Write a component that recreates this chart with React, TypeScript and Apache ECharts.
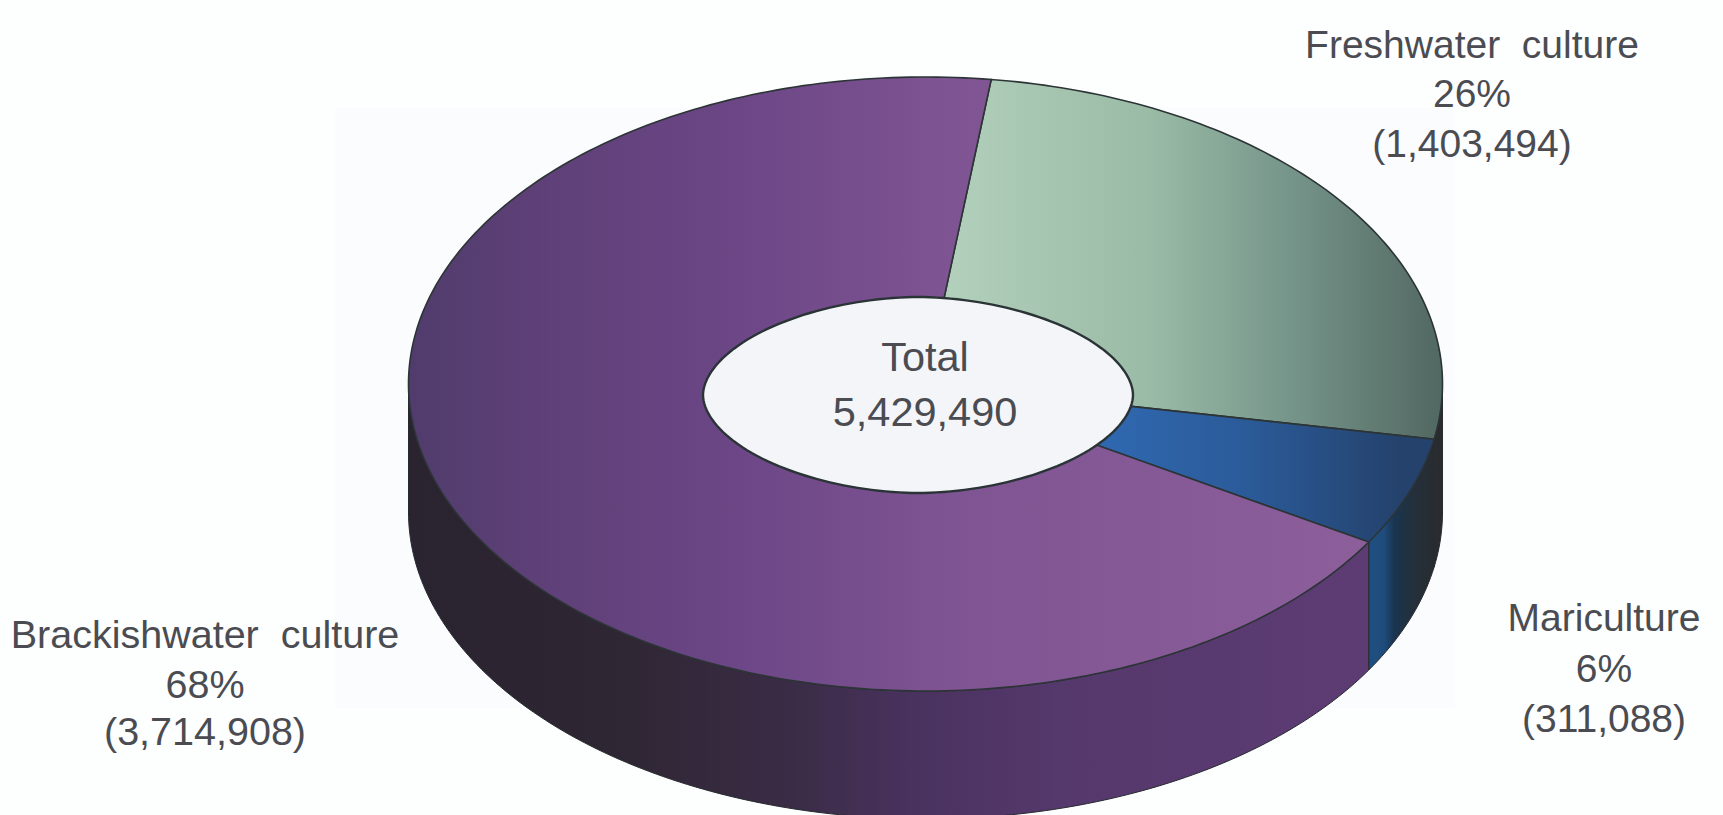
import React, { useEffect, useRef } from "react";
import * as echarts from "echarts";

// Aquaculture production by culture type, clockwise from the first slice.
const categories = ["Freshwater  culture", "Mariculture", "Brackishwater  culture"];
const productionValues = [1403494, 311088, 3714908];
const shareLabels = ["26%", "6%", "68%"];
const valueLabels = ["(1,403,494)", "(311,088)", "(3,714,908)"];
const totalTitle = "Total";
const totalLabel = "5,429,490";

// Pie geometry: an ellipse tilted towards the viewer, with a visible rim.
const WIDTH = 1723;
const HEIGHT = 815;
const CX = 925.5;
const CY = 384;
const RX = 517;
const RY = 307;
const DEPTH = 128;
const START_ANGLE = 7.3;
const HOLE = { cx: 918, cy: 395, rx: 215, ry: 98, power: 1.85 };
const TEXT_FONT = "'Liberation Sans', Arial, sans-serif";
const TEXT_COLOR = "#4b4c52";
const EDGE = "#2c3436";

type Stop = [number, string];

// Horizontal gradient whose stops are given in chart pixels.
const pixelGradient = (stops: Stop[]) => {
  const x0 = stops[0][0];
  const x1 = stops[stops.length - 1][0];
  return new echarts.graphic.LinearGradient(
    x0,
    0,
    x1,
    0,
    stops.map(([x, color]) => ({ offset: (x - x0) / (x1 - x0), color })),
    true
  );
};

const topFills = [
  pixelGradient([[945, "#b2d0bb"], [1150, "#9abba6"], [1290, "#76958a"], [1440, "#526862"]]),
  pixelGradient([[1104, "#2f68b0"], [1250, "#2b5a98"], [1400, "#24426c"]]),
  pixelGradient([[408, "#503c6c"], [550, "#5f4078"], [750, "#6d4787"], [950, "#7f5492"], [1362, "#8c5f9b"]]),
];
const rimBlueDark = pixelGradient([[1367, "#1f5082"], [1384, "#1e4c7c"], [1394, "#1a3550"], [1412, "#23303c"], [1444, "#2a2a2c"]]);
const rimFills = [
  rimBlueDark,
  rimBlueDark,
  pixelGradient([[408, "#2a2430"], [610, "#2e2632"], [800, "#3b2c47"], [910, "#49325e"], [1060, "#55386c"], [1367, "#5d3c74"]]),
];

const total = productionValues.reduce((a, b) => a + b, 0);
const sliceAngles = (index: number): [number, number] => {
  const before = productionValues.slice(0, index).reduce((a, b) => a + b, 0);
  return [
    START_ANGLE + (before / total) * 360,
    START_ANGLE + ((before + productionValues[index]) / total) * 360,
  ];
};

const rimPoint = (deg: number, drop = 0): number[] => {
  const r = (deg * Math.PI) / 180;
  return [CX + RX * Math.sin(r), CY - RY * Math.cos(r) + drop];
};

const arc = (from: number, to: number, drop = 0): number[][] => {
  const pts: number[][] = [];
  const steps = Math.max(2, Math.ceil(Math.abs(to - from)));
  for (let i = 0; i <= steps; i++) pts.push(rimPoint(from + ((to - from) * i) / steps, drop));
  return pts;
};

const holePoints = (): number[][] => {
  const pts: number[][] = [];
  for (let deg = 0; deg < 360; deg += 2) {
    const r = (deg * Math.PI) / 180;
    const c = Math.cos(r);
    const s = Math.sin(r);
    pts.push([
      HOLE.cx + HOLE.rx * Math.sign(c) * Math.pow(Math.abs(c), 2 / HOLE.power),
      HOLE.cy + HOLE.ry * Math.sign(s) * Math.pow(Math.abs(s), 2 / HOLE.power),
    ]);
  }
  return pts;
};

const labelBlock = (x: number, ys: number[], lines: string[], size: number) =>
  lines.map((line, i) => ({
    type: "text",
    x,
    y: ys[i],
    z: 100,
    style: {
      text: line,
      x: 0,
      y: 0,
      align: "center",
      verticalAlign: "middle",
      fontFamily: TEXT_FONT,
      fontSize: size,
      fill: TEXT_COLOR,
    },
  }));

const buildOption = () => {
  const sliceData = productionValues.map((value) => [value]);
  return {
    animation: false,
    backgroundColor: "#fdfefe",
    series: [
      {
        type: "custom",
        name: "rim",
        coordinateSystem: "none",
        z: 2,
        silent: true,
        data: sliceData,
        renderItem: (params: any) => {
          const [a0, a1] = sliceAngles(params.dataIndex);
          const from = Math.max(a0, 90);
          const to = Math.min(a1, 270);
          if (to <= from) return { type: "group", children: [] };
          return {
            type: "polygon",
            shape: { points: [...arc(from, to), ...arc(to, from, DEPTH)] },
            style: { fill: rimFills[params.dataIndex], stroke: "#272a30", lineWidth: 1 },
          };
        },
      },
      {
        type: "custom",
        name: "top",
        coordinateSystem: "none",
        z: 3,
        silent: true,
        data: sliceData,
        renderItem: (params: any) => {
          const [a0, a1] = sliceAngles(params.dataIndex);
          return {
            type: "polygon",
            shape: { points: [[CX, CY], ...arc(a0, a1)] },
            style: { fill: topFills[params.dataIndex], stroke: EDGE, lineWidth: 1.6 },
          };
        },
      },
      {
        type: "custom",
        name: "hole",
        coordinateSystem: "none",
        z: 4,
        silent: true,
        data: [[total]],
        renderItem: () => ({
          type: "polygon",
          shape: { points: holePoints() },
          style: { fill: "#f4f5f9", stroke: "#2a3336", lineWidth: 2.4 },
        }),
      },
    ],
    graphic: {
      elements: [
        {
          type: "rect",
          z: -10,
          shape: { x: 335, y: 108, width: 1120, height: 600 },
          style: { fill: "#fbfcfd" },
        },
        ...labelBlock(1472, [44, 93, 143], [categories[0], shareLabels[0], valueLabels[0]], 39),
        ...labelBlock(1604, [617, 668, 718], [categories[1], shareLabels[1], valueLabels[1]], 39),
        ...labelBlock(205, [634, 684, 731], [categories[2], shareLabels[2], valueLabels[2]], 39.5),
        ...labelBlock(925, [356, 411], [totalTitle, totalLabel], 41.5),
      ],
    },
  };
};

export default function App() {
  const ref = useRef<HTMLDivElement>(null);
  useEffect(() => {
    if (!ref.current) return;
    const chart = echarts.init(ref.current, undefined, { renderer: "svg" });
    chart.setOption(buildOption() as any);
    return () => chart.dispose();
  }, []);
  return (
    <div
      ref={ref}
      style={{ position: "fixed", left: 0, top: 0, width: WIDTH, height: HEIGHT, overflow: "hidden" }}
    />
  );
}
